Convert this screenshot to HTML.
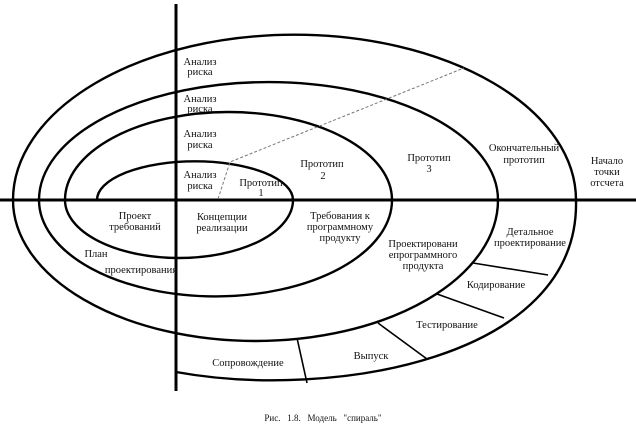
<!DOCTYPE html>
<html><head><meta charset="utf-8"><style>
html,body{margin:0;padding:0;background:#fff;}
svg{display:block;}
text{font-family:"Liberation Serif","DejaVu Serif",serif;font-size:10.5px;fill:#111;text-anchor:middle;}
</style></head><body>
<svg width="636" height="429" viewBox="0 0 636 429" xmlns="http://www.w3.org/2000/svg">
<g fill="none" stroke="#000" stroke-width="2.4">
<path d="M13,200 A281,165 0 0 1 576,200"/>
<path d="M39,200 A229.5,118 0 0 1 498,200"/>
<path d="M65,200 A163.5,88 0 0 1 392,200"/>
<path d="M97,200 A98,38.7 0 0 1 293,200"/>
<path d="M65,200 A114,58 0 0 0 293,200"/>
<path d="M39,200 A176.5,96.4 0 0 0 392,200"/>
<path d="M13,200 A242.5,141 0 0 0 498,200"/>
<path d="M176,372 C330,400 580,360 576,200"/>
</g>
<g stroke="#000" stroke-width="3">
<line x1="0" y1="200" x2="636" y2="200"/>
<line x1="176" y1="4" x2="176" y2="391"/>
</g>
<g stroke="#000" stroke-width="1.6">
<line x1="297" y1="338" x2="307" y2="383"/>
<line x1="378" y1="323" x2="427" y2="359"/>
<line x1="437" y1="294" x2="504" y2="318"/>
<line x1="473" y1="263" x2="548" y2="275"/>
</g>
<g stroke="#777" stroke-width="1" stroke-dasharray="3,2" fill="none">
<path d="M218,199 L230,162 L464,68"/>
</g>
<text x="200" y="65">Анализ</text><text x="200" y="75">риска</text>
<text x="200" y="102">Анализ</text><text x="200" y="112">риска</text>
<text x="200" y="137">Анализ</text><text x="200" y="148">риска</text>
<text x="200" y="178">Анализ</text><text x="200" y="189">риска</text>
<text x="261" y="186">Прототип</text><text x="261" y="196">1</text>
<text x="322" y="167">Прототип</text><text x="323" y="179">2</text>
<text x="429" y="161">Прототип</text><text x="429" y="172">3</text>
<text x="524" y="151">Окончательный</text><text x="524" y="163">прототип</text>
<text x="607" y="164">Начало</text><text x="607" y="175">точки</text><text x="607" y="186">отсчета</text>
<text x="135" y="219">Проект</text><text x="135" y="230">требований</text>
<text x="222" y="220">Концепции</text><text x="222" y="231">реализации</text>
<text x="340" y="219">Требования к</text><text x="340" y="230">программному</text><text x="340" y="241">продукту</text>
<text x="96" y="257">План</text>
<text x="141" y="273">проектирования</text>
<text x="423" y="247">Проектировани</text><text x="423" y="258">епрограммного</text><text x="423" y="269">продукта</text>
<text x="530" y="235">Детальное</text><text x="530" y="246">проектирование</text>
<text x="496" y="288">Кодирование</text>
<text x="447" y="328">Тестирование</text>
<text x="371" y="359">Выпуск</text>
<text x="248" y="366">Сопровождение</text>
<text x="323" y="421" style="font-size:9px" xml:space="preserve">Рис.   1.8.   Модель   "спираль"</text>
</svg>
</body></html>
